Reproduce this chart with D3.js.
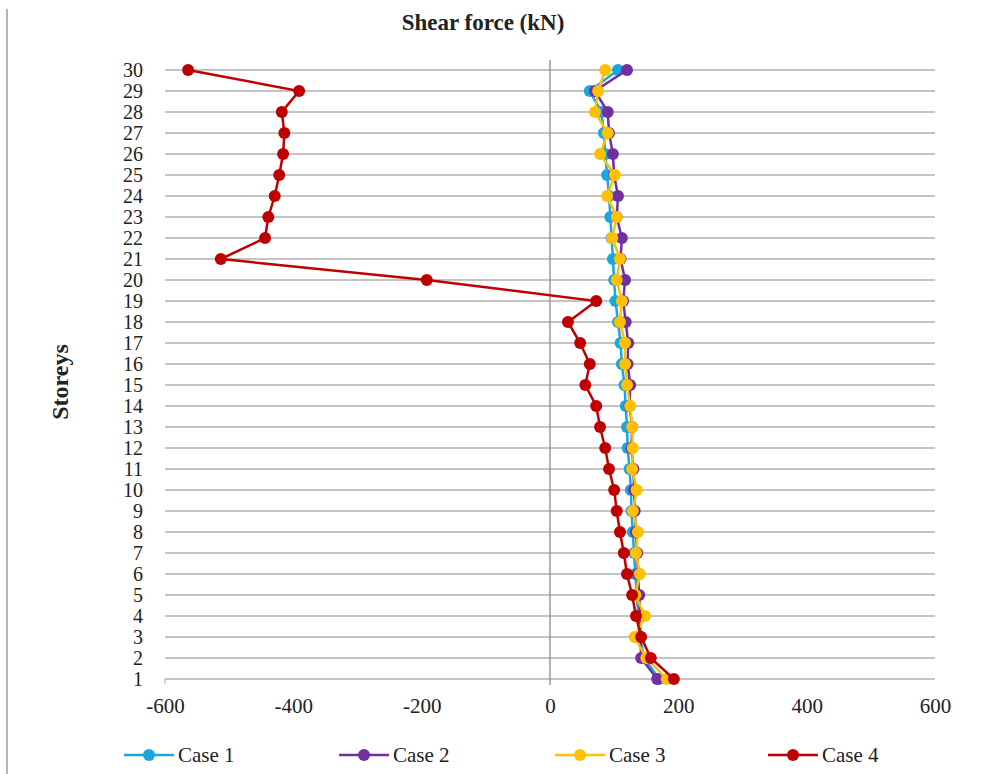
<!DOCTYPE html>
<html>
<head>
<meta charset="utf-8">
<script src="https://cdn.jsdelivr.net/npm/d3@7"></script>
<style>
  body { margin: 0; background: #fff; }
  svg text { font-family: "Liberation Serif", "Times New Roman", serif; fill: #222; }
</style>
</head>
<body>
<script>
var width = 984;
var height = 774;

// storeys, top to bottom
var storeys = [30,29,28,27,26,25,24,23,22,21,20,19,18,17,16,15,14,13,12,11,10,9,8,7,6,5,4,3,2,1];

var case1 = [106,62,80,84,86,89,92,94,96,98,100,102,106,110,112,116,118,120,121,124,126,127,129,131,133,135,138,140,147,170];
var case2 = [120,70,90,92,98,100,106,104,112,110,117,114,118,122,121,125,124,128,127,130,131,132,134,136,137,139,140,141,142,167];
var case3 = [86,75,70,90,78,101,89,104,97,109,104,112,109,117,117,120,125,128,129,128,135,129,137,134,140,133,148,132,150,182];
var case4 = [-564,-391,-418,-414,-416,-422,-429,-439,-444,-513,-192,72,28,47,62,55,72,78,86,92,100,104,109,115,120,128,134,142,157,193];

var seriesNames = ['Case 1','Case 2','Case 3','Case 4'];
var seriesColors = ['#1aa7e0','#7030a0','#ffc000','#c00000'];
var xTicks = [-600,-400,-200,0,200,400,600];

var series = [case1, case2, case3, case4].map(function(vals, i){
  return {
    name: seriesNames[i],
    color: seriesColors[i],
    points: vals.map(function(v, j){ return {storey: storeys[j], value: v}; })
  };
});

var svg = d3.select('body').append('svg').attr('width', width).attr('height', height);

var x = d3.scaleLinear().domain([-600, 600]).range([165, 935]);
var y = d3.scaleLinear().domain([1, 30]).range([679, 70]);

// left border of the picture
svg.append('line')
  .attr('x1', 7).attr('x2', 7).attr('y1', 9).attr('y2', height)
  .attr('stroke', '#b5b5b5').attr('stroke-width', 2);

// horizontal gridlines, one per storey
svg.append('g').selectAll('line')
  .data(storeys)
  .enter().append('line')
  .attr('x1', x(-600)).attr('x2', x(600))
  .attr('y1', function(d){ return y(d); })
  .attr('y2', function(d){ return y(d); })
  .attr('stroke', '#c4c4c4').attr('stroke-width', 2);

// small tick at bottom-left corner
svg.append('line')
  .attr('x1', x(-600)).attr('x2', x(-600)).attr('y1', y(1)).attr('y2', y(1) + 5)
  .attr('stroke', '#c4c4c4').attr('stroke-width', 1.5);

// zero line (value axis)
svg.append('line')
  .attr('x1', x(0)).attr('x2', x(0)).attr('y1', 60).attr('y2', 685)
  .attr('stroke', '#9a9a9a').attr('stroke-width', 1.5);

// storey labels
var yAxis = d3.axisLeft(y).tickValues(storeys).tickSize(0).tickPadding(0).tickFormat(function(d){ return String(d); });
var gy = svg.append('g').attr('transform', 'translate(143,0)').call(yAxis);
gy.select('.domain').remove();
gy.selectAll('text').style('font-size', '20px').attr('fill', '#222')
  .style('font-family', '"Liberation Serif", serif');

// value labels
var xAxis = d3.axisBottom(x).tickValues(xTicks).tickSize(0).tickPadding(0).tickFormat(function(d){ return String(d); });
var gx = svg.append('g').attr('transform', 'translate(0,698)').call(xAxis);
gx.select('.domain').remove();
gx.selectAll('text').style('font-size', '21px').attr('fill', '#222')
  .style('font-family', '"Liberation Serif", serif');

// series
var line = d3.line()
  .x(function(d){ return x(d.value); })
  .y(function(d){ return y(d.storey); });

var groups = svg.append('g').selectAll('g')
  .data(series)
  .enter().append('g');

groups.append('path')
  .attr('d', function(d){ return line(d.points); })
  .attr('fill', 'none')
  .attr('stroke', function(d){ return d.color; })
  .attr('stroke-width', 2.5);

groups.selectAll('circle')
  .data(function(d){ return d.points.map(function(p){ return {p: p, color: d.color}; }); })
  .enter().append('circle')
  .attr('cx', function(d){ return x(d.p.value); })
  .attr('cy', function(d){ return y(d.p.storey); })
  .attr('r', 6)
  .attr('fill', function(d){ return d.color; });

// title
svg.append('text')
  .attr('x', 483).attr('y', 30)
  .attr('text-anchor', 'middle')
  .style('font-size', '23px').style('font-weight', 'bold')
  .text('Shear force (kN)');

// axis title
svg.append('text')
  .attr('transform', 'translate(68,382) rotate(-90)')
  .attr('text-anchor', 'middle')
  .style('font-size', '24px').style('font-weight', 'bold')
  .text('Storeys');

// legend
var legendX = [124, 339, 555, 768];
var legend = svg.append('g').selectAll('g')
  .data(series)
  .enter().append('g')
  .attr('transform', function(d, i){ return 'translate(' + legendX[i] + ',755)'; });

legend.append('line')
  .attr('x1', 0).attr('x2', 50).attr('y1', 0).attr('y2', 0)
  .attr('stroke', function(d){ return d.color; }).attr('stroke-width', 2.5);
legend.append('circle')
  .attr('cx', 25).attr('cy', 0).attr('r', 6)
  .attr('fill', function(d){ return d.color; });
legend.append('text')
  .attr('x', 54).attr('y', 7)
  .style('font-size', '21px')
  .text(function(d){ return d.name; });
</script>
</body>
</html>
